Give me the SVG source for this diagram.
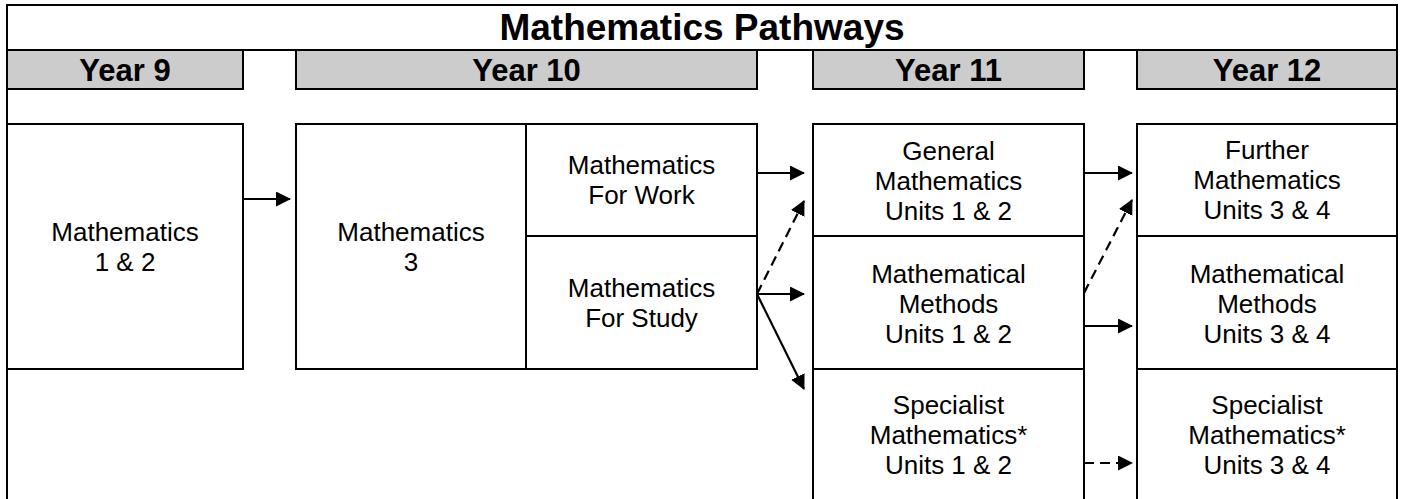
<svg xmlns="http://www.w3.org/2000/svg" width="1404" height="499" viewBox="0 0 1404 499">
<style>
.box{fill:#ffffff;stroke:#000000;stroke-width:2}
.hdr{fill:#cccccc;stroke:#000000;stroke-width:2}
.frame{fill:none;stroke:#000000;stroke-width:2}
.t{font-family:"Liberation Sans",Arial,sans-serif;font-size:26px;fill:#000000;text-anchor:middle}
.yt{font-family:"Liberation Sans",Arial,sans-serif;font-size:31px;font-weight:bold;fill:#000000;text-anchor:middle}
.title{font-family:"Liberation Sans",Arial,sans-serif;font-size:37px;font-weight:bold;fill:#000000;text-anchor:middle}
.c{fill:none;stroke:#000000;stroke-width:2.2}
.d{fill:none;stroke:#000000;stroke-width:2.2;stroke-dasharray:10 6}
</style>
<defs>
<marker id="ah" markerUnits="userSpaceOnUse" markerWidth="16" markerHeight="16" refX="14" refY="7.5" orient="auto">
<path d="M0,0 L15,7.5 L0,15 z" fill="#000000" stroke="none"/>
</marker>
</defs>
<rect width="1404" height="499" fill="#ffffff"/>
<g id="frame">
<rect class="frame" x="7" y="5" width="1390" height="500"/>
<line class="frame" x1="7" y1="50" x2="1397" y2="50"/>
</g>
<g id="title"><text class="title" x="702" y="40">Mathematics Pathways</text></g>
<g id="year9"><rect class="hdr" x="7" y="50" width="236" height="39"/><text class="yt" x="125" y="81">Year 9</text></g>
<g id="year10"><rect class="hdr" x="296" y="50" width="461" height="39"/><text class="yt" x="526.5" y="81">Year 10</text></g>
<g id="year11"><rect class="hdr" x="813" y="50" width="271" height="39"/><text class="yt" x="948.5" y="81">Year 11</text></g>
<g id="year12"><rect class="hdr" x="1137" y="50" width="260" height="39"/><text class="yt" x="1267" y="81">Year 12</text></g>

<g id="math12"><rect class="box" x="7" y="124" width="236" height="245"/>
<text class="t" x="125" y="241">Mathematics</text><text class="t" x="125" y="271">1 &amp; 2</text></g>
<g id="math3"><rect class="box" x="296" y="124" width="230" height="245"/>
<text class="t" x="411" y="241">Mathematics</text><text class="t" x="411" y="271">3</text></g>
<g id="mathwork"><rect class="box" x="526" y="124" width="231" height="112"/>
<text class="t" x="641.5" y="174">Mathematics</text><text class="t" x="641.5" y="204">For Work</text></g>
<g id="mathstudy"><rect class="box" x="526" y="236" width="231" height="133"/>
<text class="t" x="641.5" y="297">Mathematics</text><text class="t" x="641.5" y="327">For Study</text></g>

<g id="general12"><rect class="box" x="813" y="124" width="271" height="112"/>
<text class="t" x="948.5" y="160">General</text><text class="t" x="948.5" y="190">Mathematics</text><text class="t" x="948.5" y="220">Units 1 &amp; 2</text></g>
<g id="methods12"><rect class="box" x="813" y="236" width="271" height="133"/>
<text class="t" x="948.5" y="283">Mathematical</text><text class="t" x="948.5" y="313">Methods</text><text class="t" x="948.5" y="343">Units 1 &amp; 2</text></g>
<g id="specialist12"><rect class="box" x="813" y="369" width="271" height="133"/>
<text class="t" x="948.5" y="414">Specialist</text><text class="t" x="948.5" y="444">Mathematics*</text><text class="t" x="948.5" y="474">Units 1 &amp; 2</text></g>

<g id="further34"><rect class="box" x="1137" y="124" width="260" height="112"/>
<text class="t" x="1267" y="159">Further</text><text class="t" x="1267" y="189">Mathematics</text><text class="t" x="1267" y="219">Units 3 &amp; 4</text></g>
<g id="methods34"><rect class="box" x="1137" y="236" width="260" height="133"/>
<text class="t" x="1267" y="283">Mathematical</text><text class="t" x="1267" y="313">Methods</text><text class="t" x="1267" y="343">Units 3 &amp; 4</text></g>
<g id="specialist34"><rect class="box" x="1137" y="369" width="260" height="133"/>
<text class="t" x="1267" y="414">Specialist</text><text class="t" x="1267" y="444">Mathematics*</text><text class="t" x="1267" y="474">Units 3 &amp; 4</text></g>

<g id="connectors">
<line class="c" x1="243" y1="199" x2="290" y2="199" marker-end="url(#ah)"/>
<line class="c" x1="757" y1="173" x2="804" y2="173" marker-end="url(#ah)"/>
<line class="c" x1="757" y1="294" x2="804" y2="294" marker-end="url(#ah)"/>
<line class="d" x1="757" y1="294" x2="804" y2="201" marker-end="url(#ah)"/>
<line class="c" x1="757" y1="294" x2="804" y2="389" marker-end="url(#ah)"/>
<line class="c" x1="1084" y1="173" x2="1132" y2="173" marker-end="url(#ah)"/>
<line class="d" x1="1084" y1="293" x2="1132" y2="200" marker-end="url(#ah)"/>
<line class="c" x1="1084" y1="326" x2="1132" y2="326" marker-end="url(#ah)"/>
<line class="d" x1="1084" y1="463" x2="1132" y2="463" marker-end="url(#ah)"/>
</g>
</svg>
